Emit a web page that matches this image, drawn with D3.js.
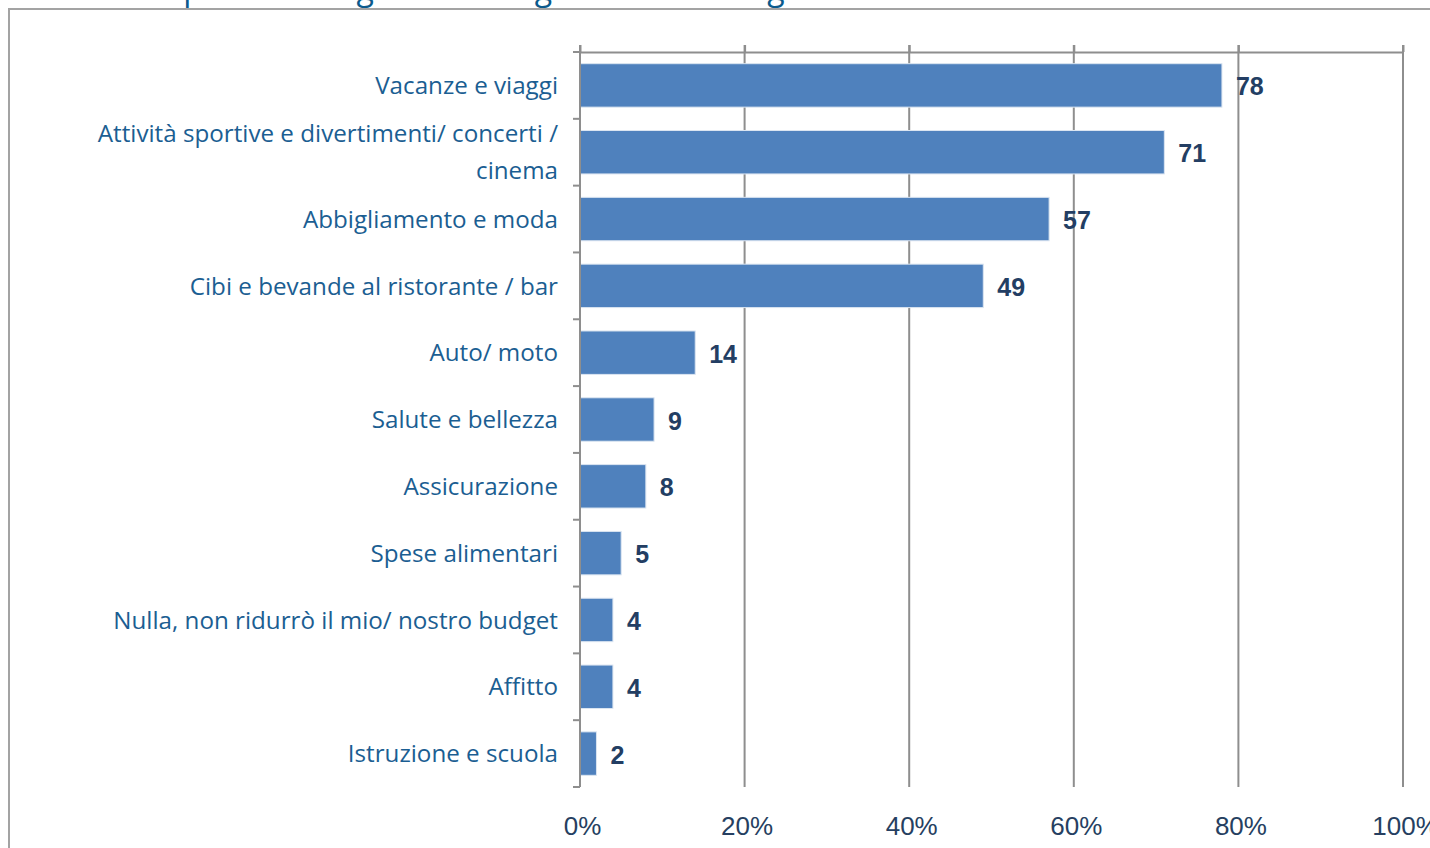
<!DOCTYPE html>
<html>
<head>
<meta charset="utf-8">
<script src="https://cdn.jsdelivr.net/npm/d3@7"></script>
<style>
  html, body { margin: 0; padding: 0; background: #fff; overflow: hidden; }
  svg { display: block; }
</style>
</head>
<body>
<div class="visHolder"></div>
<script>
// ========================================
// Data
// ========================================
const categories = [
  'Vacanze e viaggi',
  'Attività sportive e divertimenti/ concerti / cinema',
  'Abbigliamento e moda',
  'Cibi e bevande al ristorante / bar',
  'Auto/ moto',
  'Salute e bellezza',
  'Assicurazione',
  'Spese alimentari',
  'Nulla, non ridurrò il mio/ nostro budget',
  'Affitto',
  'Istruzione e scuola'
];
const values = [78, 71, 57, 49, 14, 9, 8, 5, 4, 4, 2];
const xTicks = [0, 20, 40, 60, 80, 100];
// label lines (the long one wraps on two lines as in the picture)
const labelLines = [
  ['Vacanze e viaggi'],
  ['Attività sportive e divertimenti/ concerti /', 'cinema'],
  ['Abbigliamento e moda'],
  ['Cibi e bevande al ristorante / bar'],
  ['Auto/ moto'],
  ['Salute e bellezza'],
  ['Assicurazione'],
  ['Spese alimentari'],
  ['Nulla, non ridurrò il mio/ nostro budget'],
  ['Affitto'],
  ['Istruzione e scuola']
];
const titleText = 'Le voci di spesa su cui gli italiani taglieranno il budget';

// ========================================
// Dimensions
// ========================================
const
  width = 1430,
  height = 848,
  x0 = 580,          // 0% position
  x1 = 1403,         // 100% position
  yTop = 52,         // top axis line
  yBottom = 787,     // bottom of category axis
  barColor = '#4f81bd',
  gridColor = '#8e8e8e',
  catColor = '#1b5e92',
  valColor = '#233e63',
  tickColor = '#263f61';

const svg = d3.select('.visHolder')
  .append('svg')
    .attr('width', width)
    .attr('height', height);

// frame round the chart
svg.append('path')
  .attr('d', 'M9,' + height + ' L9,9 L' + width + ',9')
  .attr('fill', 'none')
  .attr('stroke', '#a3a3a3')
  .attr('stroke-width', 2);

// title (mostly cut by the top of the page)
svg.append('text')
  .attr('x', 22)
  .attr('y', 0)
  .text(titleText)
  .style('font-family', '"Open Sans", sans-serif')
  .style('font-size', '32px')
  .style('fill', '#0b5a8c');

// ========================================
// Scales
// ========================================
const xScale = d3.scaleLinear().domain([0, 100]).range([x0, x1]);
const yScale = d3.scaleBand()
  .domain(categories)
  .range([yTop, yBottom])
  .paddingInner(0.35)
  .paddingOuter(0.175);
const step = yScale.step();

// vertical gridlines
svg.append('g')
  .selectAll('line')
  .data(xTicks.filter(d => d > 0))
  .enter()
  .append('line')
    .attr('x1', d => xScale(d))
    .attr('x2', d => xScale(d))
    .attr('y1', yTop - 7)
    .attr('y2', yBottom)
    .attr('stroke', gridColor)
    .attr('stroke-width', 2);

// top axis (line + small ticks, no labels)
svg.append('g')
  .attr('transform', 'translate(0,' + yTop + ')')
  .call(d3.axisTop(xScale).tickValues(xTicks).tickSize(7).tickSizeOuter(0).tickFormat(''))
  .call(g => g.select('.domain').attr('stroke', gridColor).attr('stroke-width', 2))
  .call(g => g.selectAll('.tick line').attr('stroke', gridColor).attr('stroke-width', 2));

// bottom tick labels
svg.append('g')
  .attr('transform', 'translate(2,' + (yBottom + 27) + ')')
  .call(d3.axisBottom(xScale).tickValues(xTicks).tickSize(0).tickFormat(d => d + '%'))
  .call(g => g.select('.domain').remove())
  .call(g => g.selectAll('text')
    .attr('dy', '0.71em')
    .style('font-family', '"Liberation Sans", Arial, sans-serif')
    .style('font-size', '26px')
    .style('fill', tickColor));

// ========================================
// Bars
// ========================================
svg.append('g')
  .selectAll('rect')
  .data(values)
  .enter()
  .append('rect')
    .attr('x', xScale(0))
    .attr('y', (d, i) => yScale(categories[i]))
    .attr('width', d => xScale(d) - xScale(0))
    .attr('height', yScale.bandwidth())
    .attr('fill', barColor)
    .attr('stroke', '#dbe5f1')
    .attr('stroke-width', 1);

// value labels
svg.append('g')
  .selectAll('text')
  .data(values)
  .enter()
  .append('text')
    .attr('x', d => xScale(d) + 14)
    .attr('y', (d, i) => yScale(categories[i]) + yScale.bandwidth() / 2 + 1)
    .attr('dy', '0.36em')
    .text(d => d)
    .style('font-family', '"Liberation Sans", Arial, sans-serif')
    .style('font-weight', 'bold')
    .style('font-size', '25px')
    .style('fill', valColor);

// category axis: vertical line and ticks on band boundaries
svg.append('line')
  .attr('x1', x0).attr('x2', x0)
  .attr('y1', yTop - 7).attr('y2', yBottom)
  .attr('stroke', gridColor)
  .attr('stroke-width', 2);

const boundaries = categories.map(c => yScale(c) - (step - yScale.bandwidth()) / 2).concat([yBottom]);
svg.append('g')
  .selectAll('line')
  .data(boundaries)
  .enter()
  .append('line')
    .attr('x1', x0 - 7).attr('x2', x0)
    .attr('y1', d => d).attr('y2', d => d)
    .attr('stroke', gridColor)
    .attr('stroke-width', 2);

// category labels
const catLabels = svg.append('g')
  .selectAll('text')
  .data(categories)
  .enter()
  .append('text')
    .attr('x', x0 - 22)
    .attr('y', d => yScale(d) + yScale.bandwidth() / 2)
    .attr('text-anchor', 'end')
    .style('font-family', '"Open Sans", sans-serif')
    .style('font-size', '24.2px')
    .style('fill', catColor);

catLabels.each(function (d, i) {
  const lines = labelLines[i];
  const lh = 37;
  const start = -(lines.length - 1) * lh / 2;
  d3.select(this).selectAll('tspan')
    .data(lines)
    .enter()
    .append('tspan')
      .attr('x', x0 - 22)
      .attr('y', (l, j) => yScale(d) + yScale.bandwidth() / 2 + start + j * lh)
      .attr('dy', '0.36em')
      .text(l => l);
});
</script>
</body>
</html>
